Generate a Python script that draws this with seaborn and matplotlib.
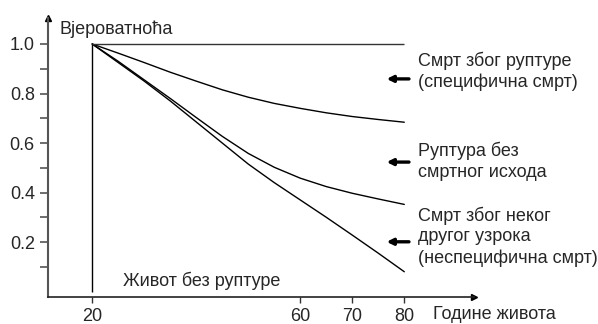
"""Probability curves over age: rupture death, non-fatal rupture and other death."""

import matplotlib.pyplot as plt
import pandas as pd
import seaborn as sns

ages = [20, 25, 30, 35, 40, 45, 50, 55, 60, 65, 70, 75, 80]
rupture_death = [1.0, 0.963, 0.925, 0.886, 0.85, 0.815, 0.785, 0.76, 0.74, 0.722, 0.707, 0.695, 0.684]
rupture_nonfatal = [1.0, 0.93, 0.855, 0.78, 0.703, 0.627, 0.558, 0.502, 0.458, 0.424, 0.397, 0.374, 0.352]
other_death = [1.0, 0.925, 0.85, 0.77, 0.685, 0.60, 0.515, 0.44, 0.37, 0.30, 0.228, 0.155, 0.08]

x_ticks = [20, 60, 70, 80]
y_ticks = [0.2, 0.4, 0.6, 0.8, 1.0]
y_minor = [0.1, 0.3, 0.5, 0.7, 0.9]

labels = {
    "rupture_death": "Смрт због руптуре\n(специфична смрт)",
    "rupture_nonfatal": "Руптура без\nсмртног исхода",
    "other_death": "Смрт због неког\nдругог узрока\n(неспецифична смрт)",
}
label_y = {"rupture_death": 0.89, "rupture_nonfatal": 0.525, "other_death": 0.222}
arrow_y = {"rupture_death": 0.859, "rupture_nonfatal": 0.523, "other_death": 0.201}


def main():
    sns.set_style("white")
    plt.rcParams["font.family"] = ["Liberation Sans", "DejaVu Sans"]
    fs = 13

    df = pd.DataFrame({"age": ages,
                       "rupture_death": rupture_death,
                       "rupture_nonfatal": rupture_nonfatal,
                       "other_death": other_death})
    df = pd.melt(df, "age", var_name="curve", value_name="p")

    fig = plt.figure(figsize=(5.98, 3.24), dpi=100)
    ax = fig.add_axes([48 / 598, 27 / 324, (474 - 48) / 598, (297 - 18) / 324])

    sns.lineplot(data=df, x="age", y="p", hue="curve", ax=ax,
                 palette=["black"] * 3, lw=1.0, legend=False)

    # frame of the "no rupture" region
    ax.vlines(20, 0, 1.0, color="black", lw=1.0)
    ax.hlines(1.0, 20, 80, color="#333333", lw=1.0)

    ax.set_xlim(11.5, 93.4)
    ax.set_ylim(-0.022, 1.105)
    ax.set_xticks(x_ticks)
    ax.set_yticks(y_ticks)
    ax.set_yticks(y_minor, minor=True)
    ax.set_yticklabels([f"{v:.1f}" for v in y_ticks])
    ax.tick_params(axis="y", which="both", direction="out", length=6, width=1.2,
                   color="#555555", left=True, pad=3.5, labelsize=fs)
    ax.tick_params(axis="x", direction="out", length=4.5, width=1.0,
                   color="#333333", bottom=True, pad=3.5, labelsize=fs)
    ax.set_xlabel("")
    ax.set_ylabel("")

    for side in ["top", "right"]:
        ax.spines[side].set_visible(False)
    ax.spines["left"].set_color("#555555")
    ax.spines["left"].set_linewidth(1.5)
    ax.spines["bottom"].set_color("#222222")
    ax.spines["bottom"].set_linewidth(1.2)

    # axis arrow heads
    ax.plot(1, 0, ">", color="black", markersize=5, transform=ax.transAxes, clip_on=False)
    ax.plot(0, 1, "^", color="black", markersize=5, transform=ax.transAxes, clip_on=False)

    ax.text(13.8, 1.06, "Вјероватноћа", fontsize=fs, va="center", ha="left", clip_on=False)
    ax.text(85.6, -0.091, "Године живота", fontsize=fs, va="center", ha="left", clip_on=False)
    ax.text(26.0, 0.042, "Живот без руптуре", fontsize=fs, va="center", ha="left")

    for key, text in labels.items():
        ax.text(82.7, label_y[key], text, fontsize=fs, va="center", ha="left",
                clip_on=False, linespacing=1.3)
        ax.annotate("", xy=(76.6, arrow_y[key]), xytext=(80.9, arrow_y[key]),
                    arrowprops=dict(arrowstyle="-|>", color="black", lw=2.4,
                                    mutation_scale=9, shrinkA=0, shrinkB=0))

    plt.savefig("out.png", dpi=100)
    plt.close()


if __name__ == "__main__":
    main()
